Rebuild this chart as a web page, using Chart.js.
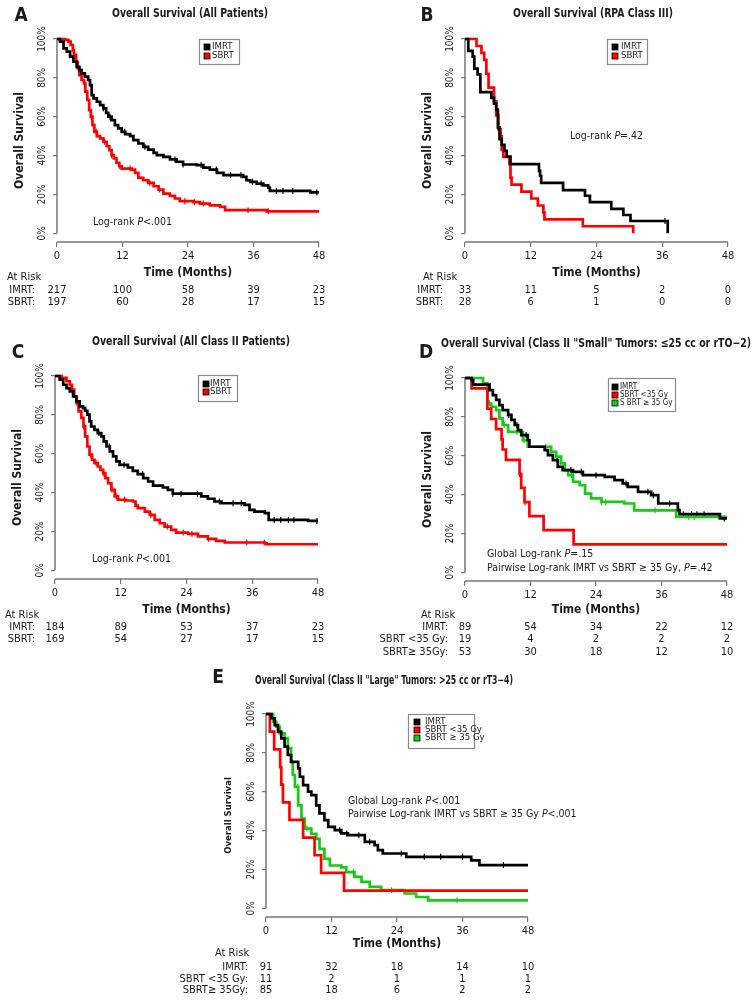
<!DOCTYPE html>
<html>
<head>
<meta charset="utf-8">
<script src="https://cdn.jsdelivr.net/npm/chart.js@4.4.0/dist/chart.umd.min.js"></script>
<style>
  body { margin: 0; background: #fff; }
  #page { position: relative; width: 756px; height: 1000px; overflow: hidden; background: #fff; }
  .panel { position: absolute; }
</style>
</head>
<body>
<div id="page">
  <div class="panel" style="left:0;top:0;width:378px;height:310px"><canvas id="A"></canvas></div>
  <div class="panel" style="left:378px;top:0;width:378px;height:310px"><canvas id="B"></canvas></div>
  <div class="panel" style="left:0;top:310px;width:378px;height:350px"><canvas id="C"></canvas></div>
  <div class="panel" style="left:378px;top:310px;width:378px;height:350px"><canvas id="D"></canvas></div>
  <div class="panel" style="left:180px;top:660px;width:400px;height:340px"><canvas id="E"></canvas></div>
</div>
<script>
const FONT = "'Liberation Sans Narrow','DejaVu Sans Condensed','Arial Narrow',sans-serif";
const INK = '#1a1a1a';
const AXIS = '#777';
const BLACK = '#000000';
const RED = '#ff0000';
const GREEN = '#19c819';

const monthTicks = [0, 12, 24, 36, 48];
const pctTicks = [0, 10, 20, 30, 40, 50, 60, 70, 80, 90, 100];
const xTitle = 'Time (Months)';
const yTitle = 'Overall Survival';
const riskHeader = 'At Risk';

// A - all patients
const aTitle = 'Overall Survival (All Patients)';
const aNote = [['Log-rank ', 0], ['P', 1], ['<.001', 0]];
const aRiskLabels = ['IMRT:', 'SBRT:'];
const aImrtRisk = [217, 100, 58, 39, 23];
const aSbrtRisk = [197, 60, 28, 17, 15];
const aImrtT = [0, 0.55, 1.2, 1.8, 2.4, 3.0, 3.6, 4.1, 4.5, 5.1, 5.7, 6.05, 6.35, 6.7, 7.3, 7.9, 8.5, 9.0, 9.4, 10.0, 10.6, 11.2, 11.85, 12.5, 13.4, 14.0, 14.9, 15.8, 16.7, 17.7, 18.3, 19.5, 20.7, 21.9, 23.1, 25.6, 26.8, 28.0, 29.3, 30.5, 34.1, 34.7, 35.4, 36.6, 37.8, 38.7, 39.0, 46.4, 48];
const aImrtS = [100, 98.6, 95.2, 93.5, 90.9, 88.3, 85.7, 84.0, 82.3, 80.6, 78.9, 76.3, 71.1, 69.4, 67.7, 66.0, 64.3, 62.0, 60.0, 58.2, 55.7, 54.0, 52.2, 51.0, 50.0, 47.9, 46.2, 44.5, 43.1, 41.4, 40.2, 39.3, 38.0, 36.8, 35.4, 35.1, 33.8, 32.8, 31.1, 29.9, 29.0, 27.3, 26.5, 25.6, 24.7, 23.5, 21.8, 21.0, 21.0];
const aImrtCens = [8.5, 9.7, 12.4, 16.1, 21.6, 23.1, 26.4, 29.2, 31.8, 33.7, 35.8, 37.4, 40.2, 41.4, 43.2, 47.6];
const aSbrtT = [0, 1.5, 2.1, 2.5, 2.9, 3.1, 3.5, 3.8, 4.1, 4.5, 4.95, 5.2, 5.55, 5.9, 6.2, 6.5, 6.85, 7.3, 7.9, 8.5, 9.1, 9.6, 10.0, 10.4, 10.9, 11.4, 11.85, 13.7, 14.3, 14.9, 15.8, 16.7, 17.7, 18.6, 19.5, 20.7, 21.6, 22.5, 25.0, 26.2, 28.0, 29.9, 30.8, 38.4, 48];
const aSbrtS = [100, 99.5, 98.6, 96.9, 94.3, 91.8, 88.3, 84.9, 81.4, 78.9, 77.1, 72.9, 68.6, 63.4, 60.0, 55.7, 52.2, 50.0, 48.8, 47.1, 44.8, 42.8, 40.2, 38.5, 36.3, 34.5, 33.3, 32.8, 31.1, 28.5, 27.3, 25.9, 24.2, 22.5, 20.4, 19.2, 17.9, 16.5, 16.0, 15.3, 14.4, 13.6, 11.9, 11.3, 11.3];
const aSbrtCens = [3.9, 5.1, 6.3, 7.2, 8.7, 10.0, 11.5, 13.4, 17.0, 18.8, 23.4, 25.2, 26.8, 35.0, 38.7];

// B - RPA class III
const bTitle = 'Overall Survival (RPA Class III)';
const bNote = [['Log-rank ', 0], ['P', 1], ['=.42', 0]];
const bRiskLabels = ['IMRT:', 'SBRT:'];
const bImrtRisk = [33, 11, 5, 2, 0];
const bSbrtRisk = [28, 6, 1, 0, 0];
const bImrtT = [0, 0.6, 1.4, 1.7, 2.3, 2.8, 4.8, 5.3, 5.7, 6.0, 6.3, 6.7, 7.2, 7.6, 8.3, 13.5, 13.7, 13.9, 17.9, 21.9, 22.8, 26.7, 28.9, 30.2, 37.0];
const bImrtS = [100, 93.9, 90.9, 84.8, 81.8, 72.7, 69.7, 66.7, 63.6, 54.5, 48.5, 45.5, 42.4, 39.4, 35.6, 32.1, 29.6, 25.9, 22.2, 19.3, 16.0, 12.6, 9.4, 6.3, 0];
const bImrtCens = [36.5];
const bSbrtT = [0, 2.1, 3.0, 3.5, 3.9, 4.3, 5.3, 5.7, 6.1, 6.5, 6.7, 7.0, 8.1, 8.3, 8.5, 10.3, 12.1, 13.3, 14.3, 14.5, 21.5, 30.7];
const bSbrtS = [100, 96.4, 92.9, 89.3, 82.1, 75, 67.9, 60.7, 53.6, 50, 42.9, 39.3, 35.7, 28.6, 25, 21.4, 17.9, 14.3, 10.7, 7.1, 3.6, 0];
const bSbrtCens = [];

// C - all class II
const cTitle = 'Overall Survival (All Class II Patients)';
const cNote = [['Log-rank ', 0], ['P', 1], ['<.001', 0]];
const cRiskLabels = ['IMRT:', 'SBRT:'];
const cImrtRisk = [184, 89, 53, 37, 23];
const cSbrtRisk = [169, 54, 27, 17, 15];
const cImrtT = [0, 0.85, 1.5, 2.1, 2.7, 3.3, 3.9, 4.5, 5.1, 5.5, 5.9, 6.3, 6.6, 7.2, 7.8, 8.45, 8.9, 9.4, 10.0, 10.6, 11.2, 11.8, 13.3, 14.2, 15.1, 16.1, 17.0, 17.9, 19.7, 20.6, 21.5, 26.7, 27.9, 29.1, 30.4, 34.6, 35.5, 36.4, 38.3, 39.0, 46.2, 48];
const cImrtS = [100, 98.1, 95.5, 93.8, 92.1, 89.5, 86.9, 84.4, 83.5, 82.1, 80.1, 76.6, 74.0, 72.3, 70.6, 68.9, 66.3, 63.7, 61.2, 58.6, 56.0, 54.3, 52.9, 51.2, 49.5, 47.4, 45.7, 43.6, 42.6, 41.4, 39.4, 38.0, 36.8, 35.4, 34.5, 33.7, 31.1, 30.2, 29.4, 25.9, 25.4, 25.4];
const cImrtCens = [8.0, 9.9, 12.6, 16.0, 21.5, 23.0, 26.0, 30.0, 32.5, 34.0, 40.0, 41.2, 42.6, 43.6, 47.8];
const cSbrtT = [0, 1.2, 2.1, 2.7, 3.1, 3.5, 3.9, 4.3, 4.8, 5.2, 5.5, 5.9, 6.3, 6.75, 7.2, 7.8, 8.3, 8.8, 9.2, 9.7, 10.3, 10.9, 11.5, 13.0, 14.2, 14.7, 15.1, 16.4, 17.3, 18.2, 19.1, 20.0, 21.2, 22.1, 24.3, 26.1, 27.9, 29.4, 31.0, 38.3, 38.6, 48];
const cSbrtS = [100, 99.0, 97.3, 95.5, 93.0, 89.5, 86.1, 81.8, 78.4, 74.1, 68.9, 63.7, 59.5, 56.9, 55.2, 53.4, 51.7, 50.0, 47.4, 44.8, 41.4, 38.0, 36.3, 35.9, 35.4, 33.3, 32.0, 30.2, 28.5, 25.9, 24.2, 22.5, 20.8, 19.4, 18.7, 17.4, 16.2, 15.1, 14.3, 13.9, 13.4, 13.4];
const cSbrtCens = [4.0, 5.2, 6.5, 7.5, 8.8, 10.4, 11.2, 12.7, 17.5, 20.5, 23.4, 25.0, 28.0, 35.0, 38.2];

// D - class II small tumors
const dTitle = 'Overall Survival (Class II "Small" Tumors: \u226425 cc or rTO\u22122)';
const dNote1 = [['Global Log-rank ', 0], ['P', 1], ['=.15', 0]];
const dNote2 = [['Pairwise Log-rank IMRT vs SBRT \u2265 35 Gy, ', 0], ['P', 1], ['=.42', 0]];
const dLegend = ['IMRT', 'SBRT <35 Gy', 'S BRT \u2265 35 Gy'];
const dRiskLabels = ['IMRT:', 'SBRT <35 Gy:', 'SBRT\u2265 35Gy:'];
const dImrtRisk = [89, 54, 34, 22, 12];
const dLowRisk = [19, 4, 2, 2, 2];
const dHighRisk = [53, 30, 18, 12, 10];
const dImrtT = [0, 1.2, 1.5, 4.5, 5.1, 5.7, 6.3, 6.9, 7.9, 8.5, 9.1, 9.7, 10.3, 11.5, 11.8, 14.6, 15.2, 16.1, 17.0, 17.9, 19.8, 21.6, 25.6, 27.4, 28.9, 29.8, 31.7, 34.1, 35.4, 39.0, 39.3, 46.7, 48];
const dImrtS = [100, 98.9, 96.6, 93.8, 91.2, 88.7, 86, 83.5, 81, 78.4, 75.8, 73.2, 70.6, 68, 64.6, 62.9, 60.3, 57.7, 54.3, 52.6, 51.7, 50, 49.1, 47.4, 45.7, 44, 41.4, 39.7, 35.4, 32, 29.9, 27.7, 27.7];
const dImrtCens = [8.0, 9.5, 11.2, 16.9, 19.4, 21.3, 24.0, 29.5, 33.5, 34.5, 37.5, 40.0, 41.5, 42.5, 43.8, 47.5];
const dLowT = [0, 1.2, 4.1, 4.8, 5.7, 6.7, 6.9, 7.5, 10.0, 10.3, 10.9, 11.8, 14.4, 19.9, 48];
const dLowS = [100, 94.7, 84.2, 78.9, 73.7, 68.4, 63.2, 57.9, 50.6, 43.4, 36.1, 28.9, 21.7, 14.4, 14.4];
const dLowCens = [10.0, 11.0];
const dHighT = [0, 3.3, 4.1, 4.8, 5.7, 6.3, 6.9, 7.9, 10.6, 11.5, 15.8, 16.7, 17.6, 18.3, 18.9, 19.8, 21.0, 22.0, 23.1, 25.0, 29.2, 31.0, 38.7, 48];
const dHighS = [100, 97.3, 87, 85.2, 83.5, 79.2, 75.8, 72.3, 68, 64.6, 62, 59.5, 56, 52.6, 50, 46.6, 44.8, 40.5, 38, 36.2, 35.4, 31.9, 28.5, 28.5];
const dHighCens = [4.5, 7.2, 9.5, 10.8, 14.8, 19.5, 25.0, 25.8, 34.8, 41.0, 42.0];

// E - class II large tumors
const eTitle = 'Overall Survival (Class II "Large" Tumors: >25 cc or rT3\u22124)';
const eNote1 = [['Global Log-rank ', 0], ['P', 1], ['<.001', 0]];
const eNote2 = [['Pairwise Log-rank IMRT vs SBRT \u2265 35 Gy ', 0], ['P', 1], ['<.001', 0]];
const eLegend = ['IMRT', 'SBRT <35 Gy', 'SBRT \u2265 35 Gy'];
const eRiskLabels = ['IMRT:', 'SBRT <35 Gy:', 'SBRT\u2265 35Gy:'];
const eImrtRisk = [91, 32, 18, 14, 10];
const eLowRisk = [11, 2, 1, 1, 1];
const eHighRisk = [85, 18, 6, 2, 2];
const eImrtT = [0, 1.0, 1.6, 2.2, 2.8, 3.4, 4.0, 4.6, 5.9, 6.2, 6.8, 7.7, 8.3, 9.2, 9.8, 10.7, 11.4, 12.6, 13.8, 15.0, 18.1, 19.9, 20.5, 21.4, 25.7, 37.6, 39.1, 48];
const eImrtS = [100, 97.8, 94.3, 90.9, 87.5, 83.2, 78.9, 75.4, 72, 67.7, 63.4, 60, 58.2, 53, 48.8, 45.4, 41.9, 40.2, 38.5, 37.6, 34.2, 32.5, 29.9, 28.2, 26.5, 24.7, 22.2, 22.2];
const eImrtCens = [13.5, 14.8, 17.0, 19.0, 24.8, 29.0, 32.0, 36.0, 43.5];
const eLowT = [0, 0.7, 1.5, 2.6, 2.8, 3.1, 4.3, 6.8, 8.9, 10.1, 14.3, 48];
const eLowS = [100, 90.9, 81.8, 72.7, 63.6, 54.5, 45.5, 36.4, 27.3, 18.2, 9.1, 9.1];
const eLowCens = [];
const eHighT = [0, 1.3, 1.9, 2.5, 3.4, 4.0, 4.6, 4.9, 5.3, 5.9, 6.5, 7.1, 8.3, 9.2, 9.8, 10.7, 11.7, 13.8, 14.7, 16.2, 17.5, 19.0, 21.1, 25.4, 27.5, 29.7, 48];
const eHighS = [100, 96, 93.5, 90, 87.5, 82.3, 75.4, 68.6, 62.5, 53, 46.2, 41, 38.3, 35.7, 30.6, 25.4, 22, 21, 18.6, 16.2, 13.6, 11, 9.3, 7.6, 5.8, 4.1, 4.1];
const eHighCens = [5.8, 7.5, 16.0, 23.0, 35.0];

function survAt(T, S, t) {
  let v = S[0];
  for (let i = 0; i < T.length; i++) if (T[i] <= t) v = S[i];
  return v;
}

function curve(label, color, T, S) {
  return {
    label, borderColor: color, backgroundColor: color,
    data: T.map((t, i) => ({ x: t, y: S[i] })),
    stepped: true, borderWidth: 2.7, pointRadius: 0, fill: false, clip: false
  };
}

function censor(color, T, S, times) {
  return {
    censor: true,
    data: times.map(t => ({ x: t, y: survAt(T, S, t) })),
    showLine: false, pointStyle: 'line', pointRadius: 3, pointRotation: 90,
    pointBorderColor: color, pointBorderWidth: 1.2, clip: false
  };
}

function drawParts(ctx, parts, x, y, size) {
  let cx = x;
  for (const [txt, it] of parts) {
    ctx.font = (it ? 'italic ' : '') + size + 'px ' + FONT;
    ctx.fillText(txt, cx, y);
    cx += ctx.measureText(txt).width;
  }
}

const panels = {};

const decor = {
  id: 'decor',
  beforeDatasetsDraw(chart) {
    const { ctx, scales: { x, y }, chartArea } = chart;
    const x0 = x.getPixelForValue(0);
    ctx.save();
    ctx.strokeStyle = AXIS;
    ctx.lineWidth = 1.5;
    ctx.beginPath();
    ctx.moveTo(x0, y.getPixelForValue(0));
    ctx.lineTo(x0, y.getPixelForValue(100));
    ctx.moveTo(x0, chartArea.bottom);
    ctx.lineTo(x.getPixelForValue(48), chartArea.bottom);
    ctx.stroke();
    ctx.restore();
  },
  afterDraw(chart) {
    const p = panels[chart.canvas.id];
    const { ctx, scales: { x } } = chart;
    ctx.save();
    ctx.fillStyle = INK;
    ctx.textBaseline = 'middle';

    // panel letter and title
    ctx.textAlign = 'center';
    ctx.font = 'bold 19px ' + FONT;
    ctx.fillText(p.letter.text, p.letter.x, p.letter.y);
    ctx.font = 'bold ' + p.title.size + 'px ' + FONT;
    ctx.fillText(p.title.text, p.title.x, p.title.y, p.title.w);

    // legend box
    const lg = p.legend;
    ctx.strokeStyle = '#8a8a8a';
    ctx.lineWidth = 1.2;
    ctx.strokeRect(lg.x + 0.5, lg.y + 0.5, lg.w, lg.h);
    const sets = chart.data.datasets.filter(d => !d.censor);
    ctx.textAlign = 'left';
    ctx.font = lg.size + 'px ' + FONT;
    sets.forEach((d, i) => {
      const ry = lg.y + lg.rows[i];
      ctx.fillStyle = d.borderColor;
      ctx.fillRect(lg.x + lg.mx - 3, ry - 3, 6, 6);
      ctx.strokeStyle = '#000';
      ctx.lineWidth = 0.8;
      ctx.strokeRect(lg.x + lg.mx - 3, ry - 3, 6, 6);
      ctx.fillStyle = INK;
      ctx.fillText(d.label, lg.x + lg.tx, ry);
    });

    // log-rank notes
    p.notes.forEach(n => drawParts(ctx, n.parts, n.x, n.y, p.noteSize));

    // number at risk
    const r = p.risk;
    ctx.font = '11px ' + FONT;
    ctx.textAlign = 'left';
    ctx.fillText(riskHeader, r.hx, r.hy);
    r.labels.forEach((lab, i) => {
      ctx.textAlign = 'right';
      ctx.fillText(lab, r.lx, r.ys[i]);
      ctx.textAlign = 'center';
      r.rows[i].forEach((n, j) => ctx.fillText(String(n), x.getPixelForValue(monthTicks[j]), r.ys[i]));
    });
    ctx.restore();
  }
};

function makePanel(id, datasets, p) {
  panels[id] = p;
  new Chart(document.getElementById(id), {
    type: 'line',
    data: { datasets },
    options: {
      responsive: true,
      maintainAspectRatio: false,
      animation: false,
      events: [],
      layout: { padding: p.pad },
      plugins: { legend: { display: false }, tooltip: { enabled: false } },
      scales: {
        x: {
          type: 'linear', min: 0, max: 48,
          afterBuildTicks: s => { s.ticks = monthTicks.map(v => ({ value: v })); },
          afterFit: s => { s.height = p.xH; },
          border: { display: false },
          grid: { drawOnChartArea: false, tickLength: 5, color: AXIS, lineWidth: 1.2 },
          ticks: { font: { family: FONT, size: 11 }, color: INK, padding: 3, maxRotation: 0 },
          title: { display: true, text: xTitle, color: INK, font: { family: FONT, size: 12, weight: 'bold' }, padding: { top: 0, bottom: p.xTitlePad } }
        },
        y: {
          type: 'linear', min: -4.5, max: 100,
          afterBuildTicks: s => { s.ticks = pctTicks.map(v => ({ value: v })); },
          afterFit: s => { s.width = p.yW; },
          border: { display: false },
          grid: { drawOnChartArea: false, tickLength: 4, color: AXIS, lineWidth: 1.2 },
          ticks: {
            font: { family: FONT, size: 10 }, color: INK, padding: -2,
            minRotation: 90, maxRotation: 90, crossAlign: 'center',
            callback: v => (v % 20 === 0 ? v + '%' : '')
          },
          title: { display: true, text: yTitle, color: INK, font: { family: FONT, size: p.ySize, weight: 'bold' }, padding: { top: p.yTitlePad, bottom: 0 } }
        }
      }
    },
    plugins: [decor]
  });
}

makePanel('A', [
  curve('IMRT', BLACK, aImrtT, aImrtS), curve('SBRT', RED, aSbrtT, aSbrtS),
  censor(BLACK, aImrtT, aImrtS, aImrtCens), censor(RED, aSbrtT, aSbrtS, aSbrtCens)
], {
  pad: { left: 12, right: 59, top: 39, bottom: 28 }, yW: 45, xH: 40, ySize: 12, yTitlePad: 0.8, xTitlePad: 2.4,
  letter: { text: 'A', x: 21, y: 16 }, title: { text: aTitle, x: 190, y: 14, w: 156, size: 12 },
  legend: { x: 199, y: 39, w: 40, h: 25, mx: 8, tx: 13, rows: [8, 17], size: 9.5 },
  noteSize: 10.5, notes: [{ x: 93, y: 222, parts: aNote }],
  risk: { hx: 7, hy: 277, lx: 35, ys: [290, 302], labels: aRiskLabels, rows: [aImrtRisk, aSbrtRisk] }
});

makePanel('B', [
  curve('IMRT', BLACK, bImrtT, bImrtS), curve('SBRT', RED, bSbrtT, bSbrtS),
  censor(BLACK, bImrtT, bImrtS, bImrtCens), censor(RED, bSbrtT, bSbrtS, bSbrtCens)
], {
  pad: { left: 42, right: 28, top: 39, bottom: 28 }, yW: 45, xH: 40, ySize: 12, yTitlePad: 0.8, xTitlePad: 2.4,
  letter: { text: 'B', x: 49, y: 16 }, title: { text: bTitle, x: 215, y: 14, w: 160, size: 12 },
  legend: { x: 229, y: 39, w: 40, h: 25, mx: 8, tx: 14, rows: [8, 17], size: 9.5 },
  noteSize: 10.5, notes: [{ x: 192, y: 136, parts: bNote }],
  risk: { hx: 45, hy: 277, lx: 65, ys: [290, 302], labels: bRiskLabels, rows: [bImrtRisk, bSbrtRisk] }
});

makePanel('C', [
  curve('IMRT', BLACK, cImrtT, cImrtS), curve('SBRT', RED, cSbrtT, cSbrtS),
  censor(BLACK, cImrtT, cImrtS, cImrtCens), censor(RED, cSbrtT, cSbrtS, cSbrtCens)
], {
  pad: { left: 10, right: 60, top: 66, bottom: 41 }, yW: 45, xH: 40, ySize: 12, yTitlePad: 0.8, xTitlePad: 2.4,
  letter: { text: 'C', x: 18, y: 43 }, title: { text: cTitle, x: 191, y: 32, w: 198, size: 12 },
  legend: { x: 198, y: 65, w: 39, h: 26, mx: 8, tx: 12, rows: [9, 17], size: 9.5 },
  noteSize: 10.5, notes: [{ x: 92, y: 249, parts: cNote }],
  risk: { hx: 5, hy: 305, lx: 35, ys: [317, 329], labels: cRiskLabels, rows: [cImrtRisk, cSbrtRisk] }
});

makePanel('D', [
  curve(dLegend[0], BLACK, dImrtT, dImrtS), curve(dLegend[1], RED, dLowT, dLowS), curve(dLegend[2], GREEN, dHighT, dHighS),
  censor(BLACK, dImrtT, dImrtS, dImrtCens), censor(RED, dLowT, dLowS, dLowCens), censor(GREEN, dHighT, dHighS, dHighCens)
], {
  pad: { left: 42, right: 29, top: 68, bottom: 39 }, yW: 45, xH: 40, ySize: 12, yTitlePad: 0.8, xTitlePad: 4.4,
  letter: { text: 'D', x: 48, y: 43 }, title: { text: dTitle, x: 218, y: 34, w: 310, size: 12 },
  legend: { x: 230, y: 68, w: 67, h: 33, mx: 7, tx: 12, rows: [9, 17, 25], size: 8 },
  noteSize: 10.5, notes: [{ x: 109, y: 244, parts: dNote1 }, { x: 109, y: 258, parts: dNote2 }],
  risk: { hx: 43, hy: 305, lx: 70, ys: [317, 329, 342], labels: dRiskLabels, rows: [dImrtRisk, dLowRisk, dHighRisk] }
});

makePanel('E', [
  curve(eLegend[0], BLACK, eImrtT, eImrtS), curve(eLegend[1], RED, eLowT, eLowS), curve(eLegend[2], GREEN, eHighT, eHighS),
  censor(BLACK, eImrtT, eImrtS, eImrtCens), censor(RED, eLowT, eLowS, eLowCens), censor(GREEN, eHighT, eHighS, eHighCens)
], {
  pad: { left: 41, right: 52, top: 54, bottom: 43 }, yW: 45, xH: 40, ySize: 9.5, yTitlePad: 1.6, xTitlePad: 6.4,
  letter: { text: 'E', x: 38, y: 18 }, title: { text: eTitle, x: 204, y: 21, w: 258, size: 11.5 },
  legend: { x: 228, y: 54, w: 66, h: 34, mx: 9, tx: 17, rows: [8, 16, 24], size: 9.5 },
  noteSize: 10.5, notes: [{ x: 168, y: 141, parts: eNote1 }, { x: 168, y: 154, parts: eNote2 }],
  risk: { hx: 35, hy: 293, lx: 68, ys: [307, 319, 330], labels: eRiskLabels, rows: [eImrtRisk, eLowRisk, eHighRisk] }
});
</script>
</body>
</html>
